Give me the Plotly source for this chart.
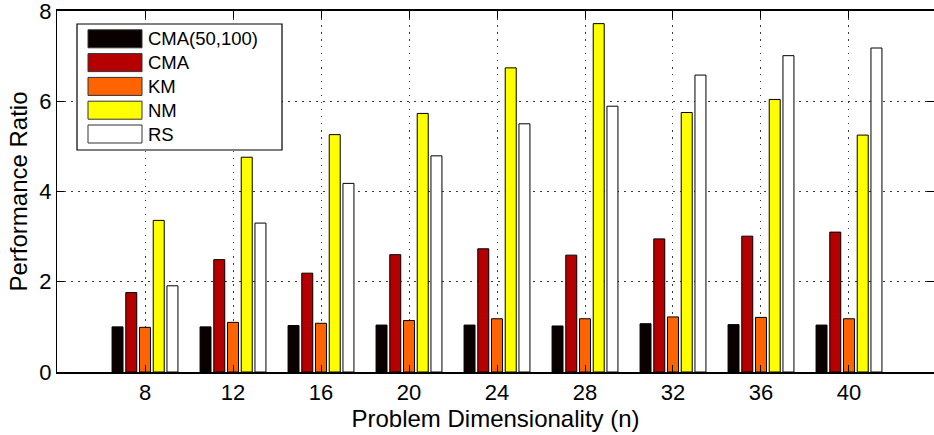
import plotly.graph_objects as go

# ---- data ----
categories = ["8", "12", "16", "20", "24", "28", "32", "36", "40"]
series_names = ["CMA(50,100)", "CMA", "KM", "NM", "RS"]
cma_50_100 = [1.00, 1.00, 1.03, 1.04, 1.04, 1.02, 1.07, 1.05, 1.04]
cma = [1.76, 2.49, 2.19, 2.60, 2.73, 2.59, 2.95, 3.01, 3.10]
km = [0.99, 1.10, 1.08, 1.14, 1.18, 1.18, 1.22, 1.21, 1.18]
nm = [3.36, 4.76, 5.26, 5.73, 6.74, 7.72, 5.75, 6.04, 5.25]
rs = [1.91, 3.30, 4.18, 4.79, 5.50, 5.89, 6.58, 7.01, 7.18]
y_ticks = [0, 2, 4, 6, 8]

series_values = [cma_50_100, cma, km, nm, rs]
colors = ["#0b0000", "#b40000", "#ff6400", "#ffff00", "#ffffff"]

W, H = 934, 435
ML, MR, MT, MB = 57, 0, 11, 63
PW, PH = W - ML - MR, H - MT - MB

FONT = "Liberation Sans, Arial, Helvetica, sans-serif"

fig = go.Figure()
for name, vals, col in zip(series_names, series_values, colors):
    fig.add_trace(go.Bar(
        x=categories, y=vals, name=name,
        marker=dict(color=col, line=dict(color="#000000", width=1)),
        showlegend=False,
    ))

def px_x(p):
    return (p - ML) / PW

def px_y(p):
    return 1 - (p - MT) / PH

shapes = []
annotations = []
# legend box
shapes.append(dict(type="rect", xref="paper", yref="paper",
                   x0=px_x(77), x1=px_x(282), y0=px_y(150), y1=px_y(24),
                   line=dict(color="#000000", width=1.2), fillcolor="#ffffff", layer="above"))
row_centers = [38.8, 62.6, 86.4, 110.2, 134.0]
for name, col, cy in zip(series_names, colors, row_centers):
    shapes.append(dict(type="rect", xref="paper", yref="paper",
                       x0=px_x(88), x1=px_x(142), y0=px_y(cy + 9), y1=px_y(cy - 9),
                       line=dict(color="#333333", width=1), fillcolor=col, layer="above"))
    annotations.append(dict(xref="paper", yref="paper", x=px_x(146), y=px_y(cy),
                            text=name, showarrow=False, xanchor="left", yanchor="middle",
                            font=dict(family=FONT, size=18.5, color="#000000")))

fig.update_layout(
    width=W, height=H,
    margin=dict(l=ML, r=MR, t=MT, b=MB, pad=0),
    paper_bgcolor="#ffffff", plot_bgcolor="#ffffff",
    barmode="group", bargap=0.22, bargroupgap=0.2,
    font=dict(family=FONT, size=20, color="#000000"),
    shapes=shapes, annotations=annotations,
    showlegend=False,
)
GRID_DASH = "1.5px,5.5px"
fig.update_xaxes(
    range=[-1, 8.966], automargin=False,
    showline=True, linecolor="#000000", linewidth=1.5, mirror="ticks",
    ticks="inside", ticklen=7, tickcolor="#000000", tickwidth=1,
    showgrid=True, gridcolor="#3a3a3a", gridwidth=1, griddash=GRID_DASH,
    tickfont=dict(size=22), ticklabeloverflow="allow",
    title=dict(text="Problem Dimensionality (n)", font=dict(size=24), standoff=2),
)
fig.update_yaxes(
    range=[0, 8], tickvals=y_ticks, automargin=False,
    showline=True, linecolor="#000000", linewidth=1, mirror="ticks",
    ticks="inside", ticklen=7, tickcolor="#000000", tickwidth=1,
    showgrid=True, gridcolor="#3a3a3a", gridwidth=1, griddash=GRID_DASH,
    zeroline=False,
    tickfont=dict(size=22), ticklabeloverflow="allow",
    title=dict(text="Performance Ratio", font=dict(size=24), standoff=4),
)

fig.write_html("out.html", config={"displayModeBar": False},
               post_script="document.body.style.margin='0px';")
